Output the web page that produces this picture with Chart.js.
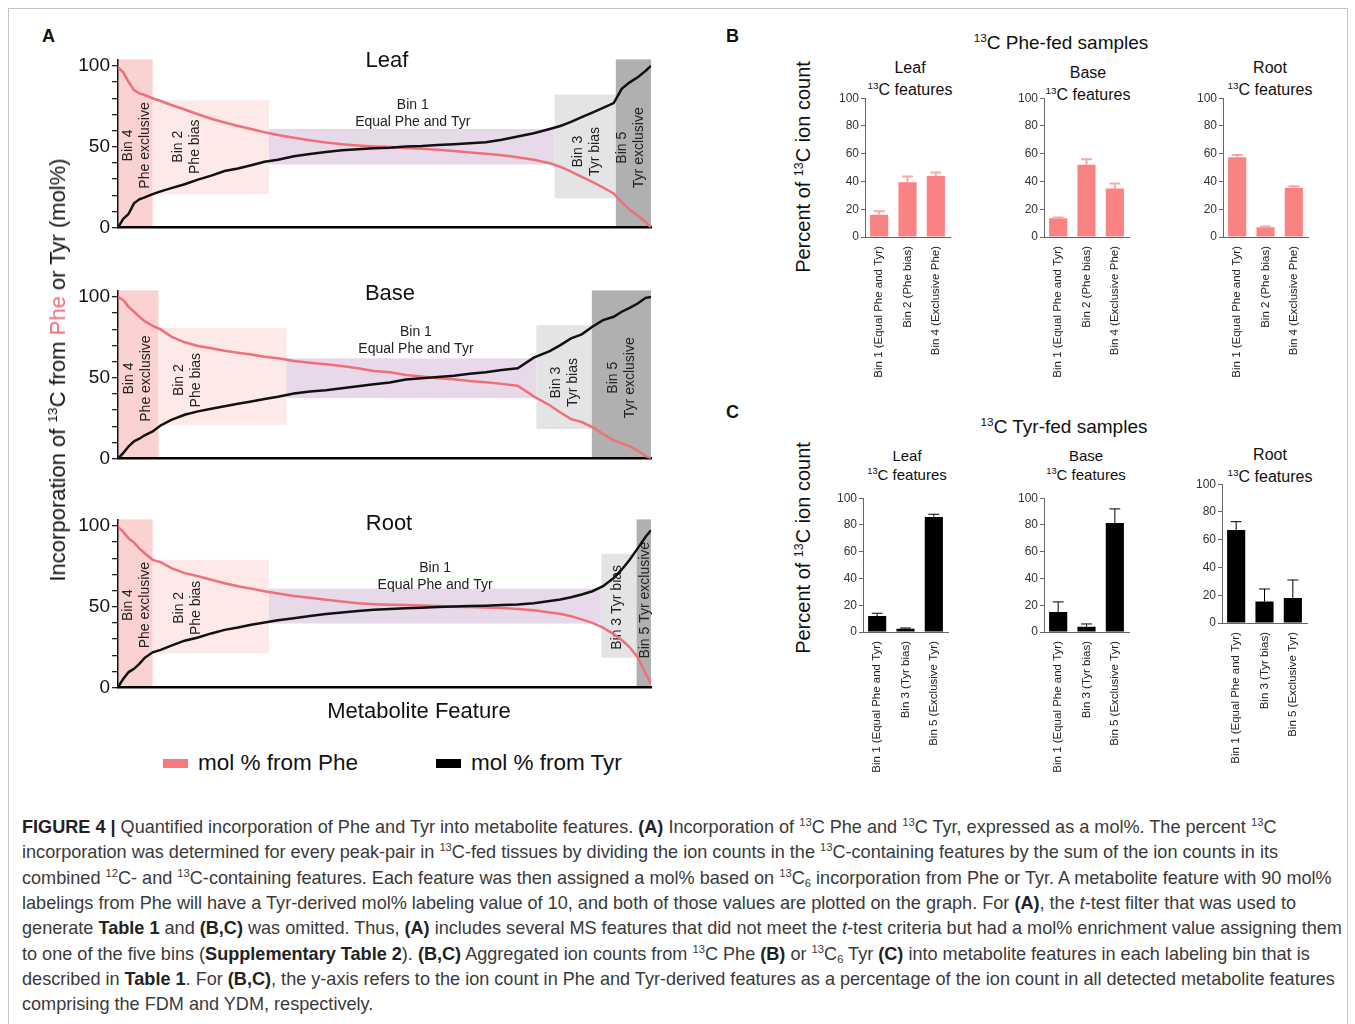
<!DOCTYPE html>
<html>
<head>
<meta charset="utf-8">
<script src="https://cdn.jsdelivr.net/npm/chart.js@4.4.1/dist/chart.umd.min.js"></script>
<style>
  body { margin: 0; background: #fff; font-family: "Liberation Sans", Arial, sans-serif; }
  #fig { position: relative; width: 1355px; height: 1024px; overflow: hidden; }
  .frame { position: absolute; left: 8px; top: 8px; width: 1338px; height: 1040px; border: 1px solid #c4c4c4; }
  canvas { position: absolute; }
  .t { position: absolute; white-space: nowrap; color: #111; line-height: 1; }
  .c { transform: translate(-50%, -50%); text-align: center; }
  .rot { transform: translate(-50%, -50%) rotate(-90deg); }
  sup { font-size: 0.62em; vertical-align: baseline; position: relative; top: -0.6em; }
  sub { font-size: 0.62em; vertical-align: baseline; position: relative; top: 0.25em; }
  .cap { position: absolute; left: 22px; font-size: 18.1px; line-height: 25px; color: #3a3a3a; white-space: nowrap; }
  .cap b { color: #222; }
  .key { position: absolute; height: 9px; width: 25px; }
</style>
</head>
<body>
<div id="fig">
  <div class="frame"></div>

  <div class="t" style="left:42px;top:27px;font-size:18px;font-weight:bold;">A</div>
  <div class="t" style="left:726px;top:27px;font-size:18px;font-weight:bold;">B</div>
  <div class="t" style="left:726px;top:403px;font-size:18px;font-weight:bold;">C</div>

  <canvas id="leafA" width="600" height="195" style="left:60px;top:46px;"></canvas>
  <canvas id="baseA" width="600" height="195" style="left:60px;top:277px;"></canvas>
  <canvas id="rootA" width="600" height="195" style="left:60px;top:506px;"></canvas>

  <div class="t c" style="left:387px;top:60px;font-size:22px;">Leaf</div>
  <div class="t c" style="left:390px;top:293px;font-size:22px;">Base</div>
  <div class="t c" style="left:389px;top:523px;font-size:22px;">Root</div>
  <div class="t c" style="left:419px;top:711px;font-size:22px;">Metabolite Feature</div>
  <div class="t rot" style="left:58px;top:370px;font-size:22px;">Incorporation of <sup>13</sup>C from <span style="color:#f0707a">Phe</span> or Tyr (mol%)</div>

  <div class="key" style="left:163px;top:759px;background:#f7797f;"></div>
  <div class="t" style="left:198px;top:752px;font-size:22.5px;">mol % from Phe</div>
  <div class="key" style="left:436px;top:759px;background:#000;"></div>
  <div class="t" style="left:471px;top:752px;font-size:22.5px;">mol % from Tyr</div>

  <div class="t c" style="left:1061px;top:42px;font-size:19px;"><sup>13</sup>C Phe-fed samples</div>
  <div class="t rot" style="left:803px;top:167px;font-size:20px;">Percent of <sup>13</sup>C ion count</div>
  <div class="t c" style="left:910px;top:68px;font-size:16px;">Leaf</div>
  <div class="t c" style="left:910px;top:90px;font-size:16px;"><sup>13</sup>C features</div>
  <div class="t c" style="left:1088px;top:73px;font-size:16px;">Base</div>
  <div class="t c" style="left:1088px;top:95px;font-size:16px;"><sup>13</sup>C features</div>
  <div class="t c" style="left:1270px;top:68px;font-size:16px;">Root</div>
  <div class="t c" style="left:1270px;top:90px;font-size:16px;"><sup>13</sup>C features</div>

  <div class="t c" style="left:1064px;top:426px;font-size:19px;"><sup>13</sup>C Tyr-fed samples</div>
  <div class="t rot" style="left:803px;top:548px;font-size:20px;">Percent of <sup>13</sup>C ion count</div>
  <div class="t c" style="left:907px;top:455px;font-size:15px;">Leaf</div>
  <div class="t c" style="left:907px;top:475px;font-size:15px;"><sup>13</sup>C features</div>
  <div class="t c" style="left:1086px;top:455px;font-size:15px;">Base</div>
  <div class="t c" style="left:1086px;top:475px;font-size:15px;"><sup>13</sup>C features</div>
  <div class="t c" style="left:1270px;top:455px;font-size:16px;">Root</div>
  <div class="t c" style="left:1270px;top:477px;font-size:16px;"><sup>13</sup>C features</div>

  <canvas id="leafB" width="133" height="298" style="left:825px;top:89px;"></canvas>
  <canvas id="baseB" width="133" height="298" style="left:1004px;top:89px;"></canvas>
  <canvas id="rootB" width="133" height="298" style="left:1183px;top:89px;"></canvas>
  <canvas id="leafC" width="133" height="293" style="left:823px;top:489px;"></canvas>
  <canvas id="baseC" width="133" height="293" style="left:1004px;top:489px;"></canvas>
  <canvas id="rootC" width="133" height="298" style="left:1182px;top:475px;"></canvas>

  <div class="cap" style="top:815px;"><b>FIGURE 4 |</b> Quantified incorporation of Phe and Tyr into metabolite features. <b>(A)</b> Incorporation of <sup>13</sup>C Phe and <sup>13</sup>C Tyr, expressed as a mol%. The percent <sup>13</sup>C</div>
  <div class="cap" style="top:840px;">incorporation was determined for every peak-pair in <sup>13</sup>C-fed tissues by dividing the ion counts in the <sup>13</sup>C-containing features by the sum of the ion counts in its</div>
  <div class="cap" style="top:866px;">combined <sup>12</sup>C- and <sup>13</sup>C-containing features. Each feature was then assigned a mol% based on <sup>13</sup>C<sub>6</sub> incorporation from Phe or Tyr. A metabolite feature with 90 mol%</div>
  <div class="cap" style="top:891px;">labelings from Phe will have a Tyr-derived mol% labeling value of 10, and both of those values are plotted on the graph. For <b>(A)</b>, the <i>t</i>-test filter that was used to</div>
  <div class="cap" style="top:916px;">generate <b>Table 1</b> and <b>(B,C)</b> was omitted. Thus, <b>(A)</b> includes several MS features that did not meet the <i>t</i>-test criteria but had a mol% enrichment value assigning them</div>
  <div class="cap" style="top:942px;">to one of the five bins (<b>Supplementary Table 2</b>). <b>(B,C)</b> Aggregated ion counts from <sup>13</sup>C Phe <b>(B)</b> or <sup>13</sup>C<sub>6</sub> Tyr <b>(C)</b> into metabolite features in each labeling bin that is</div>
  <div class="cap" style="top:967px;">described in <b>Table 1</b>. For <b>(B,C)</b>, the y-axis refers to the ion count in Phe and Tyr-derived features as a percentage of the ion count in all detected metabolite features</div>
  <div class="cap" style="top:992px;">comprising the FDM and YDM, respectively.</div>
</div>

<script>
// ---- panel A: mol% per metabolite feature, features sorted (rank in % of features)
const featureRank = [0, 1, 2, 3, 4, 5, 6.5, 8, 10, 12.5, 15, 17.5, 20, 22.5, 25, 27.5, 30, 33, 36, 39, 42, 45, 48, 51,
  54, 57, 60, 63, 66, 69, 72, 75, 78, 81, 83, 85, 87, 89, 91, 93, 94.5, 96, 97.5, 99, 100];

const leafPhe = [99, 96, 90, 85, 83, 82, 80, 78.3, 75.8, 73, 70.1, 67.3, 65, 62.8, 61, 59, 57.3, 55.5, 54, 52.6, 51.6, 50.8, 50.2, 49.8,
  49.2, 48.8, 48.2, 47.4, 46.5, 45.7, 44.7, 43.5, 41.9, 39.8, 37.6, 34.6, 31.3, 28.3, 24.8, 21.1, 15.7, 11, 7.5, 3.5, 0];
const leafTyr = [0, 5.5, 8.5, 15, 17.5, 18.7, 20.7, 22.4, 24.4, 26.8, 29.7, 32.1, 35, 36.6, 38.6, 40.7, 42, 44.1, 45.5, 46.7, 47.8, 48.4, 49, 49.4,
  50.1, 50.4, 51, 51.6, 52.2, 52.8, 54.3, 56.3, 58.3, 61, 62.8, 65.4, 68.3, 71.1, 74, 77, 85.8, 89.8, 92.9, 97, 100];

const basePhe = [100, 98, 93.8, 90.8, 87.7, 85, 82.1, 79.9, 75.4, 71.9, 69.6, 68.2, 66.7, 65.5, 64.3, 63, 62, 60.4, 59.3, 58.3, 57.3, 55.9, 54.2, 53.4,
  51.7, 50.7, 49.7, 49.1, 48, 47.2, 46.2, 45, 38.5, 33, 28.5, 24.4, 22.6, 19.5, 15.2, 11.3, 9.4, 7.6, 4.9, 1.6, 0];
const baseTyr = [0, 3.5, 7.6, 10.7, 12.3, 14.4, 16.8, 20.5, 24, 27.1, 29.2, 30.8, 32.4, 33.9, 35.3, 36.8, 38.2, 40.2, 41.5, 42.3, 43.5, 44.8, 46, 47,
  48.9, 49.7, 50.5, 51.3, 52.4, 53.4, 54.8, 55.9, 62.4, 66.5, 70.2, 74.3, 76.8, 81.5, 85.6, 87.7, 90.8, 93.2, 95.9, 99.4, 100];

const rootPhe = [99.4, 96.3, 92.2, 89.8, 86.1, 83.1, 79, 77.6, 73.9, 70.8, 68.8, 66.7, 64.5, 62.7, 61.2, 59.6, 58.2, 56.7, 55.5, 54.3, 53.3, 52.2, 51.6, 51.2,
  51, 50.8, 50.4, 50, 49.8, 49.6, 49.2, 48.6, 47.8, 46.5, 45.7, 44.1, 42.2, 40, 37.1, 33.1, 29.4, 24.9, 18.8, 8.6, 2.4];
const rootTyr = [0.4, 5.5, 9.6, 11.6, 14.7, 18.4, 21.8, 23.3, 25.9, 29, 31, 33.5, 35.7, 37.1, 38.8, 40.2, 41.6, 42.9, 44.3, 45.5, 46.5, 47.3, 48.2, 48.6,
  49, 49.4, 49.8, 50.2, 50.4, 50.6, 51, 51.4, 52.2, 53.5, 54.5, 55.9, 57.6, 59.6, 62.7, 67.8, 72.9, 79, 86.1, 93.3, 97.3];

// bin extents: [rank from, rank to, mol% low, mol% high], order bin4, bin2, bin1, bin3, bin5
const binOrder = ['bin4', 'bin2', 'bin1', 'bin3', 'bin5'];
const leafBins = [[0, 6.5, 0, 104], [6.5, 28.3, 20.7, 78.7], [28.3, 81.9, 39, 61], [81.9, 93.4, 18.1, 82.3], [93.4, 100, 0, 104]];
const baseBins = [[0, 7.6, 0, 104], [7.6, 31.6, 20.9, 80.9], [31.6, 78.5, 37.4, 62], [78.5, 88.9, 18.3, 82.5], [88.9, 100, 0, 104]];
const rootBins = [[0, 6.5, 0, 104], [6.5, 28.3, 21.2, 79], [28.3, 90.7, 39.6, 61.2], [90.7, 97.3, 18.4, 82.7], [97.3, 100, 0, 104]];
const molTicks = [0, 10, 20, 30, 40, 50, 60, 70, 80, 90, 100];
const molTickLabels = [0, 50, 100];

// ---- panels B and C: percent of 13C ion count per bin (mean and upper error)
const pheBinLabels = ['Bin 1 (Equal Phe and Tyr)', 'Bin 2 (Phe bias)', 'Bin 4 (Exclusive Phe)'];
const tyrBinLabels = ['Bin 1 (Equal Phe and Tyr)', 'Bin 3 (Tyr bias)', 'Bin 5 (Exclusive Tyr)'];
const pheLeaf = [16, 39.5, 44], pheLeafErr = [2.5, 4, 2.5];
const pheBase = [13.5, 52, 35], pheBaseErr = [0.5, 4, 3.5];
const pheRoot = [57.5, 7, 35.5], pheRootErr = [1.5, 0.5, 1];
const tyrLeaf = [12, 2.5, 86], tyrLeafErr = [2, 0.5, 2];
const tyrBase = [15, 4, 81.5], tyrBaseErr = [7.5, 2, 10.5];
const tyrRoot = [67, 15.5, 18], tyrRootErr = [6, 9, 13];
const percentTicks = [0, 20, 40, 60, 80, 100];

const FONT = '"Liberation Sans", Arial, sans-serif';
const binColors = { bin4: '#fad2d2', bin2: '#fde9e7', bin1: '#e8d9ea', bin3: '#e4e4e4', bin5: '#b0b0b0' };

// shaded bins go under the axes, so paint them first
const binPlugin = {
  id: 'bins',
  beforeDraw(chart, args, opts) {
    const { ctx, scales: { x, y } } = chart;
    ctx.save();
    opts.bins.forEach((b, i) => {
      const x0 = x.getPixelForValue(b[0]), x1 = x.getPixelForValue(b[1]);
      const yl = y.getPixelForValue(b[2]), yh = y.getPixelForValue(b[3]);
      ctx.fillStyle = binColors[binOrder[i]];
      ctx.fillRect(x0, yh, x1 - x0, yl - yh);
    });
    ctx.fillStyle = '#222';
    ctx.font = '14px ' + FONT;
    ctx.textAlign = 'center';
    ctx.textBaseline = 'middle';
    opts.labels.forEach(l => {
      ctx.save();
      ctx.translate(x.getPixelForValue(l.x), y.getPixelForValue(l.y));
      if (l.rot) ctx.rotate(-Math.PI / 2);
      l.lines.forEach((t, i) => ctx.fillText(t, 0, (i - (l.lines.length - 1) / 2) * 17));
      ctx.restore();
    });
    ctx.restore();
  }
};

function molChart(id, phe, tyr, bins, labels) {
  new Chart(document.getElementById(id), {
    type: 'line',
    data: {
      datasets: [
        { label: 'mol % from Tyr', data: featureRank.map((r, i) => ({ x: r, y: tyr[i] })), borderColor: '#111', borderWidth: 2.5 },
        { label: 'mol % from Phe', data: featureRank.map((r, i) => ({ x: r, y: phe[i] })), borderColor: '#f0707a', borderWidth: 2.5 }
      ]
    },
    options: {
      responsive: false,
      animation: false,
      elements: { point: { radius: 0 }, line: { tension: 0 } },
      layout: { padding: { top: 12, bottom: 12, left: 0, right: 9 } },
      plugins: { legend: { display: false }, tooltip: { enabled: false }, bins: { bins, labels } },
      scales: {
        x: {
          type: 'linear', min: 0, max: 100,
          ticks: { display: false },
          grid: { display: false },
          border: { display: true, color: '#000', width: 2.5 },
          afterFit: s => { s.height = 0; }
        },
        y: {
          min: 0, max: 104,
          afterBuildTicks: s => { s.ticks = molTicks.map(v => ({ value: v })); },
          ticks: {
            autoSkip: false, color: '#111', padding: 2,
            font: { family: FONT, size: 19 },
            callback: v => (molTickLabels.includes(v) ? v : '')
          },
          grid: { drawOnChartArea: false, color: '#222', lineWidth: 1.3, tickLength: 6 },
          border: { display: true, color: '#111', width: 1.5 },
          afterFit: s => { s.width = 58; }
        }
      }
    },
    plugins: [binPlugin]
  });
}

molChart('leafA', leafPhe, leafTyr, leafBins, [
  { x: 3.5, y: 50.8, rot: true, lines: ['Bin 4', 'Phe exclusive'] },
  { x: 12.9, y: 50, rot: true, lines: ['Bin 2', 'Phe bias'] },
  { x: 55.3, y: 70.3, rot: false, lines: ['Bin 1', 'Equal Phe and Tyr'] },
  { x: 88, y: 47, rot: true, lines: ['Bin 3', 'Tyr bias'] },
  { x: 96.2, y: 49.4, rot: true, lines: ['Bin 5', 'Tyr exclusive'] }
]);
molChart('baseA', basePhe, baseTyr, baseBins, [
  { x: 3.6, y: 49.5, rot: true, lines: ['Bin 4', 'Phe exclusive'] },
  { x: 13, y: 48.5, rot: true, lines: ['Bin 2', 'Phe bias'] },
  { x: 55.9, y: 73.2, rot: false, lines: ['Bin 1', 'Equal Phe and Tyr'] },
  { x: 83.8, y: 47, rot: true, lines: ['Bin 3', 'Tyr bias'] },
  { x: 94.4, y: 50, rot: true, lines: ['Bin 5', 'Tyr exclusive'] }
]);
molChart('rootA', rootPhe, rootTyr, rootBins, [
  { x: 3.5, y: 51, rot: true, lines: ['Bin 4', 'Phe exclusive'] },
  { x: 13, y: 49.3, rot: true, lines: ['Bin 2', 'Phe bias'] },
  { x: 59.5, y: 68.6, rot: false, lines: ['Bin 1', 'Equal Phe and Tyr'] },
  { x: 93.6, y: 49.6, rot: true, lines: ['Bin 3 Tyr bias'] },
  { x: 98.9, y: 54, rot: true, lines: ['Bin 5 Tyr exclusive'] }
]);

const errorBarPlugin = {
  id: 'errbars',
  afterDatasetsDraw(chart, args, opts) {
    const { ctx, scales: { y } } = chart;
    const meta = chart.getDatasetMeta(0);
    const values = chart.data.datasets[0].data;
    ctx.save();
    ctx.strokeStyle = opts.color;
    ctx.lineWidth = opts.width;
    meta.data.forEach((bar, i) => {
      const top = y.getPixelForValue(values[i] + opts.err[i]);
      const half = bar.width * 0.3;
      ctx.beginPath();
      ctx.moveTo(bar.x, bar.y);
      ctx.lineTo(bar.x, top);
      ctx.moveTo(bar.x - half, top);
      ctx.lineTo(bar.x + half, top);
      ctx.stroke();
    });
    ctx.restore();
  }
};

function ionChart(id, labels, values, err, color, errColor, errWidth) {
  new Chart(document.getElementById(id), {
    type: 'bar',
    data: {
      labels,
      datasets: [{ data: values, backgroundColor: color, barPercentage: 0.8, categoryPercentage: 0.8 }]
    },
    options: {
      responsive: false,
      animation: false,
      layout: { padding: { top: 8, bottom: 0, left: 0, right: 8 } },
      plugins: { legend: { display: false }, tooltip: { enabled: false }, errbars: { err, color: errColor, width: errWidth } },
      scales: {
        x: {
          ticks: { color: '#222', maxRotation: 90, minRotation: 90, padding: 1, font: { family: FONT, size: 11.5 } },
          grid: { display: false },
          border: { display: true, color: '#666', width: 1 },
          afterFit: s => { s.height = 150; }
        },
        y: {
          min: 0, max: 100,
          afterBuildTicks: s => { s.ticks = percentTicks.map(v => ({ value: v })); },
          ticks: { color: '#333', padding: 2, font: { family: FONT, size: 12 } },
          grid: { drawOnChartArea: false, color: '#666', tickLength: 4 },
          border: { display: true, color: '#666', width: 1 },
          afterFit: s => { s.width = 40; }
        }
      }
    },
    plugins: [errorBarPlugin]
  });
}

ionChart('leafB', pheBinLabels, pheLeaf, pheLeafErr, '#f98283', '#f9a8aa', 2);
ionChart('baseB', pheBinLabels, pheBase, pheBaseErr, '#f98283', '#f9a8aa', 2);
ionChart('rootB', pheBinLabels, pheRoot, pheRootErr, '#f98283', '#f9a8aa', 2);
ionChart('leafC', tyrBinLabels, tyrLeaf, tyrLeafErr, '#000', '#000', 1);
ionChart('baseC', tyrBinLabels, tyrBase, tyrBaseErr, '#000', '#000', 1);
ionChart('rootC', tyrBinLabels, tyrRoot, tyrRootErr, '#000', '#000', 1);
</script>
</body>
</html>
